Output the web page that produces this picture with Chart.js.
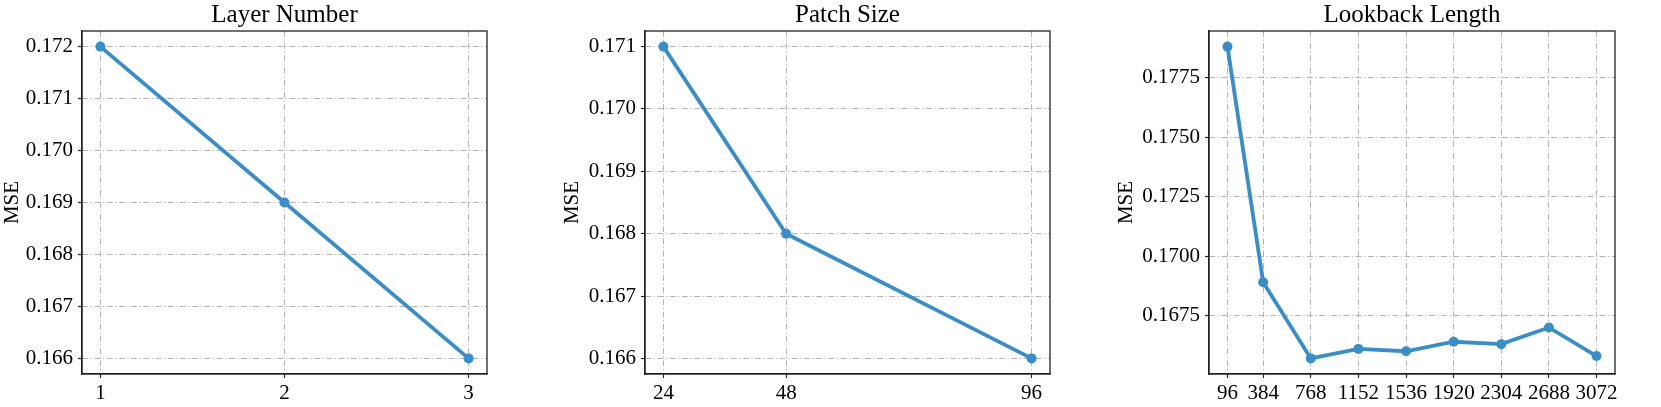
<!DOCTYPE html>
<html>
<head>
<meta charset="utf-8">
<script src="https://cdn.jsdelivr.net/npm/chart.js@4"></script>
<style>
    html, body { margin: 0; padding: 0; background: #fff; }
    #wrap { position: relative; width: 1661px; height: 407px; overflow: hidden; }
    .panel { position: absolute; top: 0; }
</style>
</head>
<body>
<div id="wrap">
    <div class="panel" style="left:0px"><canvas id="c1" width="540" height="407"></canvas></div>
    <div class="panel" style="left:540px"><canvas id="c2" width="560" height="407"></canvas></div>
    <div class="panel" style="left:1100px"><canvas id="c3" width="561" height="407"></canvas></div>
</div>
<script>
// data
const layers = [1, 2, 3];
const layerMse = [0.172, 0.169, 0.166];
const layerTicksY = [0.166, 0.167, 0.168, 0.169, 0.170, 0.171, 0.172];

const patchSizes = [24, 48, 96];
const patchMse = [0.171, 0.168, 0.166];
const patchTicksY = [0.166, 0.167, 0.168, 0.169, 0.170, 0.171];

const lookbacks = [96, 384, 768, 1152, 1536, 1920, 2304, 2688, 3072];
const lookbackMse = [0.1788, 0.1689, 0.1657, 0.1661, 0.1660, 0.1664, 0.1663, 0.1670, 0.1658];
const lookbackTicksY = [0.1675, 0.1700, 0.1725, 0.1750, 0.1775];

const LINE_COLOR = '#3a8dc5';
const FONT = "'Liberation Serif', 'Times New Roman', serif";

Chart.defaults.font.family = FONT;
Chart.defaults.color = '#000';

// box around the plot area (matplotlib spines)
const framePlugin = {
    id: 'frame',
    afterDraw(chart) {
        const a = chart.chartArea;
        const ctx = chart.ctx;
        ctx.save();
        ctx.strokeStyle = '#222';
        ctx.lineWidth = 1.3;
        ctx.strokeRect(a.left, a.top, a.right - a.left, a.bottom - a.top);
        ctx.restore();
    }
};

// matplotlib style autoscale margin of 5%
function padRange(vals) {
    const lo = Math.min(...vals), hi = Math.max(...vals);
    const m = (hi - lo) * 0.05;
    return { min: lo - m, max: hi + m };
}

function makePanel(id, title, xs, ys, xTicks, yTicks, decimals, yAxisWidth, rightPad, msePad) {
    const xr = padRange(xs);
    const yr = padRange(ys);
    const gridCommon = {
        color: '#b4b4b4',
        lineWidth: 1,
        drawTicks: true,
        tickLength: 4,
        tickColor: '#222',
        tickWidth: 1.2,
        tickBorderDash: []
    };
    return new Chart(document.getElementById(id).getContext('2d'), {
        type: 'line',
        data: {
            datasets: [{
                data: xs.map((x, i) => ({ x: x, y: ys[i] })),
                borderColor: LINE_COLOR,
                backgroundColor: LINE_COLOR,
                borderWidth: 3.8,
                pointRadius: 5,
                pointHoverRadius: 5,
                pointBorderWidth: 0,
                pointBackgroundColor: LINE_COLOR,
                tension: 0,
                clip: false
            }]
        },
        options: {
            responsive: false,
            animation: false,
            devicePixelRatio: 1,
            layout: { padding: { left: 0, right: rightPad, top: 0, bottom: 0 } },
            plugins: {
                legend: { display: false },
                tooltip: { enabled: false },
                title: {
                    display: true,
                    text: title,
                    fullSize: false,
                    color: '#000',
                    font: { size: 25, weight: 'normal', family: FONT, lineHeight: 1.2 },
                    padding: { top: 0, bottom: 1 }
                }
            },
            scales: {
                x: {
                    type: 'linear',
                    min: xr.min,
                    max: xr.max,
                    afterBuildTicks: s => { s.ticks = xTicks.map(v => ({ value: v })); },
                    afterFit: s => { s.height = 33; },
                    ticks: {
                        autoSkip: false,
                        maxRotation: 0,
                        padding: 3,
                        color: '#000',
                        font: { size: 21, family: FONT },
                        callback: v => String(v)
                    },
                    grid: gridCommon,
                    border: { display: true, color: '#222', width: 1.3, dash: [6, 2.5, 1.2, 2.5] }
                },
                y: {
                    type: 'linear',
                    min: yr.min,
                    max: yr.max,
                    afterBuildTicks: s => { s.ticks = yTicks.map(v => ({ value: v })); },
                    afterFit: s => { s.width = yAxisWidth; },
                    ticks: {
                        padding: 5,
                        color: '#000',
                        font: { size: 21, family: FONT },
                        callback: v => Number(v).toFixed(decimals)
                    },
                    grid: gridCommon,
                    border: { display: true, color: '#222', width: 1.3, dash: [6, 2.5, 1.2, 2.5] },
                    title: {
                        display: true,
                        text: 'MSE',
                        color: '#000',
                        font: { size: 21, family: FONT, lineHeight: 1.2 },
                        padding: { top: msePad, bottom: 0 }
                    }
                }
            }
        },
        plugins: [framePlugin]
    });
}

makePanel('c1', 'Layer Number', layers, layerMse, layers, layerTicksY, 3, 82, 53, 0);
makePanel('c2', 'Patch Size', patchSizes, patchMse, patchSizes, patchTicksY, 3, 105, 50, 20);
makePanel('c3', 'Lookback Length', lookbacks, lookbackMse, lookbacks, lookbackTicksY, 4, 109, 46, 14);
</script>
</body>
</html>
